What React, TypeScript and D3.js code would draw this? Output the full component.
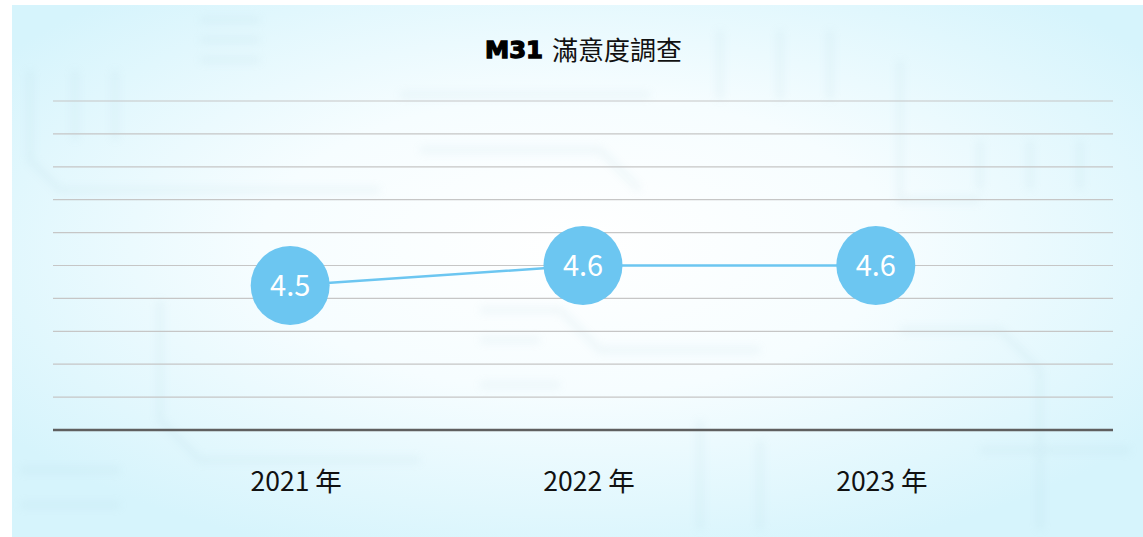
import React from "react";
import * as d3 from "d3";

const years = ["2021", "2022", "2023"];
const scores = [4.5, 4.6, 4.6];
const gridLevels = d3.range(11);

const W = 1143;
const H = 537;
const BLUE = "#6cc6f1";
const CJK = "'Noto Sans CJK TC', 'Noto Sans', sans-serif";

// faint circuit-board traces in the background
const traces = [
  "M30,70 L30,160 L60,190 L380,190",
  "M75,70 L75,140",
  "M115,70 L115,140",
  "M200,20 L260,20 M200,40 L260,40 M200,60 L260,60",
  "M420,150 L600,150 L640,190",
  "M400,95 L650,95",
  "M720,30 L720,100 M780,30 L780,100 M830,30 L830,100",
  "M900,60 L900,200 L980,200",
  "M980,140 L980,190 M1030,140 L1030,190 M1080,140 L1080,190",
  "M160,300 L160,420 L200,460 L420,460",
  "M480,310 L560,310 L600,350 L760,350",
  "M480,340 L540,340 M480,385 L560,385",
  "M20,470 L120,470 M20,505 L120,505",
  "M700,420 L700,530 M760,440 L760,530",
  "M900,330 L1000,330 L1040,370 L1040,530",
  "M980,450 L1130,450",
];

export default function App() {
  const x = d3.scalePoint<string>().domain(years).range([53, 1113]).padding(0.81);
  const y = d3.scaleLinear().domain([3.78, 5.42]).range([430, 101]);
  const g = d3.scaleLinear().domain([0, 10]).range([430, 101]);

  const pts = years.map((yr, i) => ({ yr, v: scores[i] }));
  const line = d3
    .line<{ yr: string; v: number }>()
    .x((d) => x(d.yr) as number)
    .y((d) => y(d.v));

  return (
    <svg
      width={W}
      height={H}
      style={{ position: "absolute", left: 0, top: 0, display: "block" }}
    >
      <defs>
        <radialGradient id="bg" cx="0.5" cy="0.45" r="0.62">
          <stop offset="0%" stopColor="#ffffff" />
          <stop offset="45%" stopColor="#f6fdff" />
          <stop offset="100%" stopColor="#d6f4fc" />
        </radialGradient>
        <filter id="blur" x="-10%" y="-10%" width="120%" height="120%">
          <feGaussianBlur stdDeviation="4" />
        </filter>
      </defs>
      <rect x={0} y={0} width={W} height={H} fill="#fff" />
      <rect x={12} y={5} width={W - 12} height={H - 5} fill="url(#bg)" />
      <g filter="url(#blur)" opacity={0.14}>
        {traces.map((d, i) => (
          <path key={i} d={d} fill="none" stroke="#9cc4d2" strokeWidth={6} />
        ))}
      </g>

      <text x={485} y={58} fontFamily="'DejaVu Sans', sans-serif" fontWeight="bold"
        fontSize={23} fill="#000" stroke="#000" strokeWidth={1.3}
        textLength={58} lengthAdjust="spacingAndGlyphs">
        M31
      </text>
      <text x={552} y={60} fontFamily={CJK} fontSize={26} fill="#111">
        滿意度調查
      </text>

      {gridLevels.slice(1).map((l) => (
        <line key={l} x1={53} x2={1113} y1={g(l)} y2={g(l)} stroke="#c6c6c6" strokeWidth={1.2} />
      ))}
      <line x1={53} x2={1113} y1={g(0)} y2={g(0)} stroke="#5f5f5f" strokeWidth={2.4} />

      <path d={line(pts) as string} fill="none" stroke={BLUE} strokeWidth={2.5} />
      {pts.map((d) => (
        <g key={d.yr} transform={`translate(${x(d.yr)},${y(d.v)})`}>
          <circle r={39.5} fill={BLUE} />
          <text y={10.5} textAnchor="middle" fontFamily={CJK} fontSize={29} fill="#fff">
            {d.v.toFixed(1)}
          </text>
        </g>
      ))}

      {years.map((yr) => (
        <text key={yr} x={(x(yr) as number) + 6} y={490.5} textAnchor="middle"
          fontFamily={CJK} fontSize={26.5} fill="#111">
          {`${yr} 年`}
        </text>
      ))}
    </svg>
  );
}
